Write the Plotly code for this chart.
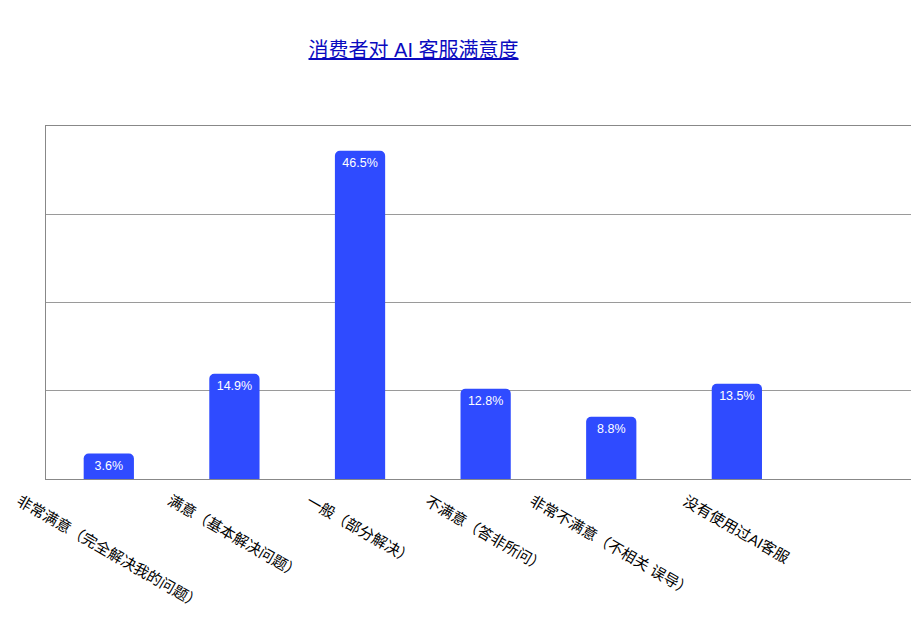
import plotly.graph_objects as go

categories = ['非常满意（完全解决我的问题）', '满意（基本解决问题）', '一般（部分解决）',
              '不满意（答非所问）', '非常不满意（不相关 误导）', '没有使用过AI客服']
values = [3.6, 14.9, 46.5, 12.8, 8.8, 13.5]
bar_text = [f'{v}%' for v in values]

font_main = 'Liberation Sans, Helvetica, Arial, Noto Sans CJK SC, sans-serif'

# page body has an 8px margin, so the figure is sized to fill the window
W, H = 911, 620

fig = go.Figure(go.Bar(
    x=categories, y=values,
    text=bar_text, textposition='inside', insidetextanchor='end',
    textfont=dict(color='white', size=12.5, family=font_main),
    marker=dict(color='#2F4BFF', cornerradius=5, line=dict(width=0)),
    width=0.4, hoverinfo='skip',
))

# rotated category labels, centred under each bar
for c in categories:
    fig.add_annotation(x=c, y=-0.029, xref='x', yref='paper',
                       text=c, textangle=30, showarrow=False,
                       xanchor='center', yanchor='top',
                       font=dict(size=15, color='black', family=font_main))

fig.update_layout(
    width=W, height=H,
    margin=dict(l=38, r=0, t=118, b=H - 471.5),
    paper_bgcolor='white', plot_bgcolor='white',
    title=dict(text='<u>消费者对 AI 客服满意度</u>', x=0.421, xref='paper', xanchor='center',
               y=1 - 42 / H, yref='container', yanchor='middle',
               font=dict(size=20, color='#0A0ABF', family=font_main)),
    showlegend=False,
    xaxis=dict(range=[-0.5, 6.45], showticklabels=False, showgrid=False, mirror=True,
               showline=True, linecolor='#888', linewidth=1, ticks='', fixedrange=True),
    yaxis=dict(range=[0, 50], dtick=12.5, showticklabels=False, showgrid=True,
               gridcolor='#9a9a9a', gridwidth=1, zeroline=False,
               showline=True, linecolor='#888', linewidth=1, ticks='', fixedrange=True),
)

fig.write_html('out.html')
